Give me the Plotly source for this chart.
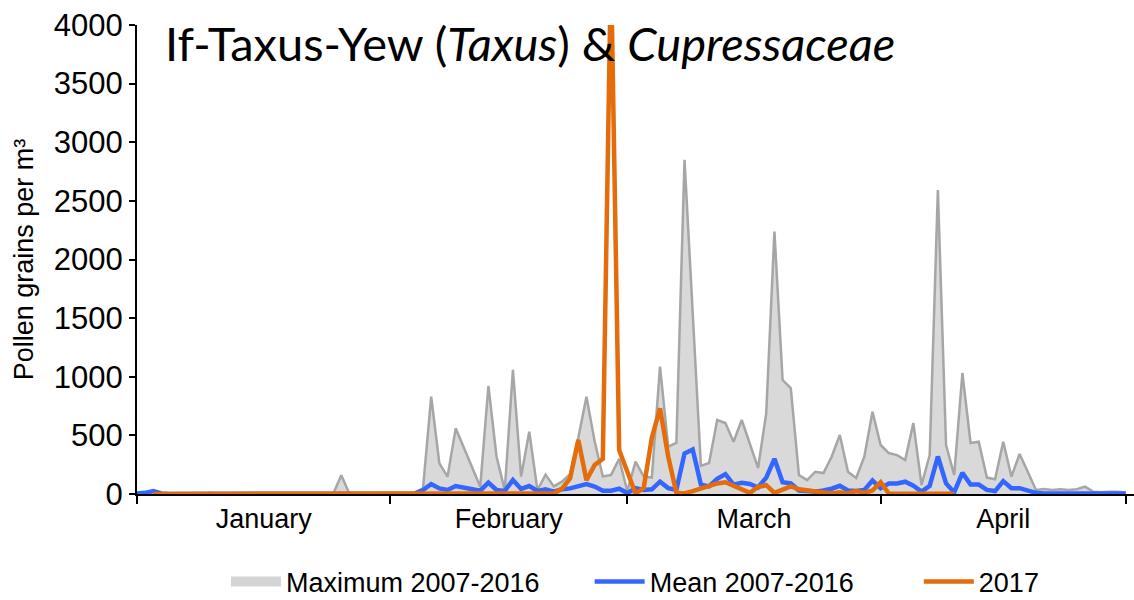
import plotly.graph_objects as go

# Day index 0 = 1 January (366-day calendar), 0..121
days = list(range(122))

max_2007_2016 = [
    5, 10, 25, 5, 0, 0, 0, 0, 0, 10,            # 0-9
    0, 0, 0, 0, 0, 0, 0, 0, 0, 0,               # 10-19
    0, 0, 0, 0, 0, 160, 0, 0, 0, 0,             # 20-29
    0, 0, 0, 0, 10, 48, 830, 262, 148, 560,     # 30-39
    394, 228, 62, 921, 318, 34, 1058, 148, 532, 34,   # 40-49
    165, 65, 105, 170, 480, 830, 450, 150, 162, 300,  # 50-59
    25, 276, 150, 140, 1086, 403, 435, 2850, 1500, 240,  # 60-69
    264, 631, 605, 446, 631, 426, 222, 690, 2238, 972,   # 70-79
    904, 162, 119, 190, 179, 318, 503, 190, 136, 318,    # 80-89
    702, 418, 349, 332, 290, 605, 77, 332, 2593, 418,    # 90-99
    162, 1032, 435, 446, 140, 125, 446, 148, 341, 190,   # 100-109
    34, 43, 34, 40, 34, 40, 63, 20, 14, 20,              # 110-119
    20, 11,                                              # 120-121
]

mean_2007_2016 = [
    5, 10, 25, 5, 0, 0, 0, 0, 0, 0,
    0, 0, 0, 0, 0, 0, 0, 0, 0, 0,
    0, 0, 0, 0, 0, 5, 0, 0, 0, 0,
    0, 0, 0, 0, 5, 34, 85, 48, 34, 68,
    57, 43, 28, 97, 34, 26, 119, 43, 68, 26,
    40, 20, 40, 48, 68, 85, 63, 28, 28, 45,
    8, 50, 35, 40, 105, 50, 35, 345, 380, 80,
    65, 130, 170, 80, 95, 85, 55, 140, 300, 100,
    90, 30, 25, 20, 30, 45, 70, 30, 25, 35,
    115, 50, 90, 90, 105, 70, 20, 70, 320, 90,
    15, 180, 80, 80, 35, 25, 110, 50, 50, 30,
    10, 5, 5, 5, 5, 5, 5, 5, 5, 5,
    5, 5,
]

y2017 = [None, None] + [0] * 49 + [
    5, 45, 134, 460, 117, 247, 300, 4500, 375,          # 51-59
    190, 5, 50, 480, 730, 320, 10, 5, 25, 50,           # 60-69
    75, 90, 100, 70, 30, 10, 60, 75, 10, 35,            # 70-79
    65, 40, 30, 20, 10, 5, 15, 5, 25, 10,               # 80-89
    30, 100, 3, 3, 3, 3, 3, 3, 3, 3,                    # 90-99
    3,                                                  # 100
] + [None] * 21

month_names = ["January", "February", "March", "April"]
month_centers = [15.5, 45.5, 75.5, 106]
month_bounds = [0, 31, 60, 91, 121]

y_ticks = [0, 500, 1000, 1500, 2000, 2500, 3000, 3500, 4000]

series_names = ["Maximum 2007-2016", "Mean 2007-2016", "2017"]

FONT = "Liberation Sans, Arial, sans-serif"
NB = "\u00a0"

fig = go.Figure()
fig.add_trace(go.Scatter(
    x=days, y=max_2007_2016, name=series_names[0], mode="lines",
    line=dict(color="#a6a6a6", width=2.5), fill="tozeroy", fillcolor="#d9d9d9",
    showlegend=False,
))
# legend entry for the filled area (thick grey swatch)
fig.add_trace(go.Scatter(
    x=[None], y=[None], name=series_names[0] + NB * 6, mode="lines",
    line=dict(color="#d4d4d4", width=18),
))
fig.add_trace(go.Scatter(
    x=days, y=mean_2007_2016, name=series_names[1] + NB * 8, mode="lines",
    line=dict(color="#3366ff", width=4.5),
))
fig.add_trace(go.Scatter(
    x=days, y=y2017, name=series_names[2], mode="lines",
    line=dict(color="#e46c0a", width=4.5), connectgaps=False,
))

fig.update_layout(
    width=1134, height=600,
    margin=dict(l=137, r=0, t=25, b=106, autoexpand=False),
    paper_bgcolor="white", plot_bgcolor="white",
    font=dict(family=FONT, color="black", size=26),
    title=dict(
        text="If-Taxus-Yew (<i>Taxus</i>) &amp; <i>Cupressaceae</i>",
        x=165 / 1134, xanchor="left", xref="container",
        y=1 - 45 / 600, yanchor="middle", yref="container",
        font=dict(family="Lato, Open Sans, sans-serif", size=47, color="black"),
    ),
    showlegend=True,
    legend=dict(
        orientation="h", x=(226 - 137) / 997, xanchor="left",
        y=(494 - 582) / 469, yanchor="middle",
        font=dict(family=FONT, size=27, color="black"),
        itemwidth=50, bgcolor="rgba(0,0,0,0)",
    ),
)

fig.update_xaxes(
    range=[0, 122], showgrid=False, zeroline=False, automargin=False,
    showline=True, linecolor="black", linewidth=2,
    tickmode="array", tickvals=month_centers, ticktext=month_names,
    ticks="", tickfont=dict(size=27, family=FONT),
    minor=dict(tickmode="array", tickvals=month_bounds, ticks="outside",
               ticklen=8, tickwidth=2, tickcolor="black"),
)
fig.update_yaxes(
    range=[0, 4000], showgrid=False, zeroline=False, automargin=False,
    showline=True, linecolor="black", linewidth=2,
    tickmode="array", tickvals=y_ticks,
    ticks="outside", ticklen=6, tickwidth=2, tickcolor="black",
    tickfont=dict(size=31, family=FONT),
    title=dict(text="Pollen grains per m³", font=dict(size=27, family=FONT), standoff=12),
)

fig.write_html(
    "out.html",
    config={"displayModeBar": False},
    post_script="document.body.style.margin='0';document.body.style.overflow='hidden';",
)
